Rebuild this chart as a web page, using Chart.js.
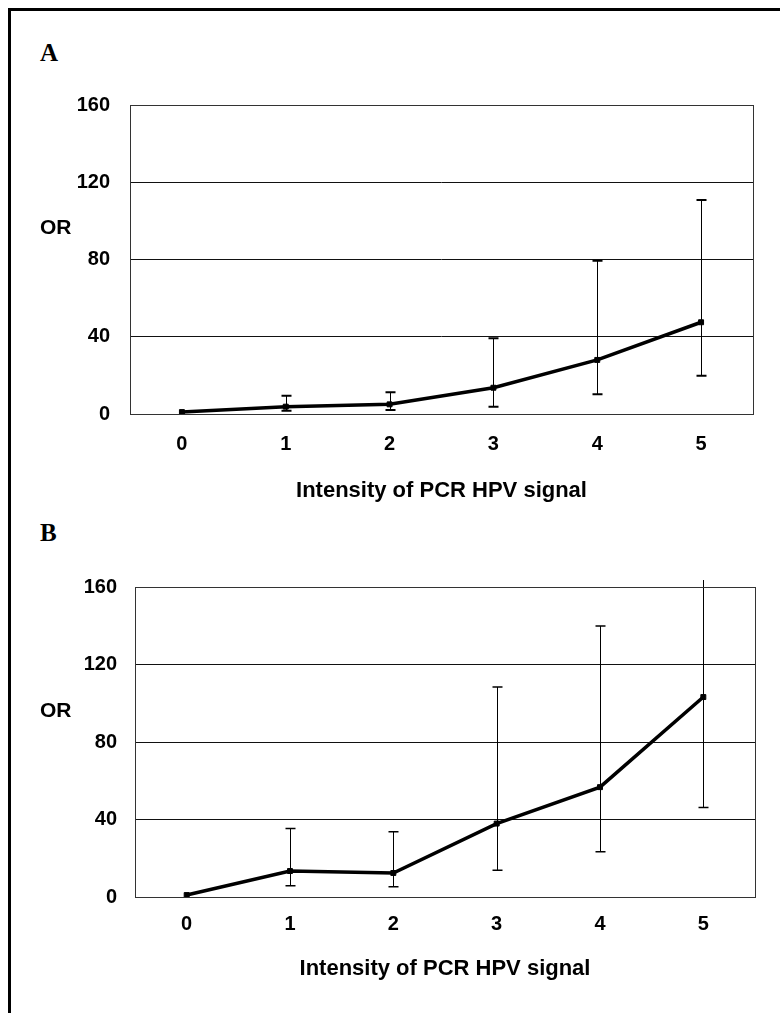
<!DOCTYPE html>
<html>
<head>
<meta charset="utf-8">
<script src="https://cdn.jsdelivr.net/npm/chart.js@4.4.1/dist/chart.umd.min.js"></script>
<style>
    body { margin: 0; background: #fff; width: 780px; height: 1013px; overflow: hidden; position: relative; }
    .frame { position: absolute; left: 8px; top: 8px; width: 820px; height: 1100px; border-left: 3px solid #000; border-top: 3px solid #000; }
    .panel { position: absolute; left: 40px; font-family: "Liberation Serif", "Times New Roman", serif; font-weight: bold; font-size: 25px; line-height: 25px; }
    .box { position: absolute; left: 0; }
</style>
</head>
<body>
<div class="frame"></div>
<div class="panel" style="top:40px">A</div>
<div class="panel" style="top:520px">B</div>
<canvas id="chartA" class="box" width="780" height="460" style="top:60px"></canvas>
<canvas id="chartB" class="box" width="780" height="460" style="top:540px"></canvas>
<script>
let categories = ["0", "1", "2", "3", "4", "5"];
let yTicks = [0, 40, 80, 120, 160];
let xTitle = "Intensity of PCR HPV signal";
let yLabel = "OR";

// panel A
let orA = [1, 3.8, 5, 13.6, 28, 47.5];
let lowA = [null, 1.7, 2.1, 3.8, 10.2, 19.8];
let highA = [null, 9.5, 11.2, 39.2, 79.4, 110.8];

// panel B
let orB = [1, 13.4, 12.4, 37.9, 56.7, 103.2];
let lowB = [null, 5.8, 5.3, 13.8, 23.4, 46.2];
let highB = [null, 35.4, 33.7, 108.4, 139.9, 163.6];

Chart.defaults.font.family = "'Liberation Sans', Arial, sans-serif";
Chart.defaults.color = "#000";

// vertical error bars, drawn under the line
let errorBarPlugin = {
    id: "errorBars",
    beforeDatasetsDraw(chart, args, opts) {
        let ctx = chart.ctx;
        let xs = chart.scales.x;
        let ys = chart.scales.y;
        ctx.save();
        ctx.strokeStyle = "#000";
        opts.low.forEach((lo, i) => {
            let hi = opts.high[i];
            if (lo == null || hi == null) return;
            let x = Math.round(xs.getPixelForValue(i)) + 0.5;
            let yLo = ys.getPixelForValue(lo);
            let yHi = ys.getPixelForValue(hi);
            ctx.lineWidth = 1;
            ctx.beginPath();
            ctx.moveTo(x, yLo);
            ctx.lineTo(x, yHi);
            ctx.stroke();
            ctx.lineWidth = opts.capWidth;
            ctx.beginPath();
            ctx.moveTo(x - 5, yLo);
            ctx.lineTo(x + 5, yLo);
            if (hi <= ys.max) {
                ctx.moveTo(x - 5, yHi);
                ctx.lineTo(x + 5, yHi);
            }
            ctx.stroke();
        });
        ctx.restore();
    }
};

// plot frame and the horizontal "OR" label
let framePlugin = {
    id: "plotFrame",
    beforeDatasetsDraw(chart) {
        let ctx = chart.ctx;
        let a = chart.chartArea;
        ctx.save();
        ctx.strokeStyle = "#333";
        ctx.lineWidth = 1;
        ctx.strokeRect(Math.round(a.left) + 0.5, Math.round(a.top) + 0.5, Math.round(a.right - a.left), Math.round(a.bottom - a.top));
        ctx.restore();
    },
    afterDraw(chart) {
        let ctx = chart.ctx;
        ctx.save();
        ctx.font = "bold 21px 'Liberation Sans', Arial, sans-serif";
        ctx.fillStyle = "#000";
        ctx.textAlign = "left";
        ctx.textBaseline = "middle";
        ctx.fillText(yLabel, 40, chart.scales.y.getPixelForValue(96));
        ctx.restore();
    }
};

function renderOrChart(canvasId, orValues, lowValues, highValues, box) {
    let ctx = document.getElementById(canvasId).getContext("2d");

    new Chart(ctx, {
        type: "line",
        data: {
            labels: categories,
            datasets: [{
                data: orValues,
                borderColor: "#000",
                borderWidth: 3.5,
                tension: 0,
                fill: false,
                pointStyle: "rect",
                pointRadius: 3.5,
                pointBorderWidth: 1,
                pointBorderColor: "#000",
                pointBackgroundColor: "#000"
            }]
        },
        options: {
            responsive: false,
            animation: false,
            layout: { padding: { top: box.padTop, right: box.padRight, left: 0, bottom: 0 } },
            plugins: {
                legend: { display: false },
                tooltip: { enabled: false },
                errorBars: { low: lowValues, high: highValues, capWidth: box.capWidth }
            },
            scales: {
                x: {
                    type: "category",
                    offset: true,
                    grid: { display: false, drawTicks: false },
                    border: { display: false },
                    ticks: { padding: box.tickPad, font: { size: 20, weight: "bold" } },
                    title: {
                        display: true,
                        text: xTitle,
                        font: { size: 22, weight: "bold" },
                        padding: { top: 0, bottom: box.titlePad }
                    },
                    afterFit: (scale) => { scale.height = box.xHeight; }
                },
                y: {
                    min: 0,
                    max: 160,
                    afterBuildTicks: (scale) => { scale.ticks = yTicks.map(v => ({ value: v })); },
                    grid: { color: "#111", lineWidth: 1, drawTicks: false },
                    border: { display: false },
                    ticks: { padding: box.yPad, font: { size: 20, weight: "bold" } },
                    afterFit: (scale) => { scale.width = box.yWidth; }
                }
            }
        },
        plugins: [errorBarPlugin, framePlugin]
    });
}

renderOrChart("chartA", orA, lowA, highA, {
    padTop: 45, padRight: 27, xHeight: 106, tickPad: 18, titlePad: 16, yWidth: 130, yPad: 20, capWidth: 2
});
renderOrChart("chartB", orB, lowB, highB, {
    padTop: 47, padRight: 25, xHeight: 103, tickPad: 15, titlePad: 18, yWidth: 135, yPad: 18, capWidth: 1.5
});
</script>
</body>
</html>
